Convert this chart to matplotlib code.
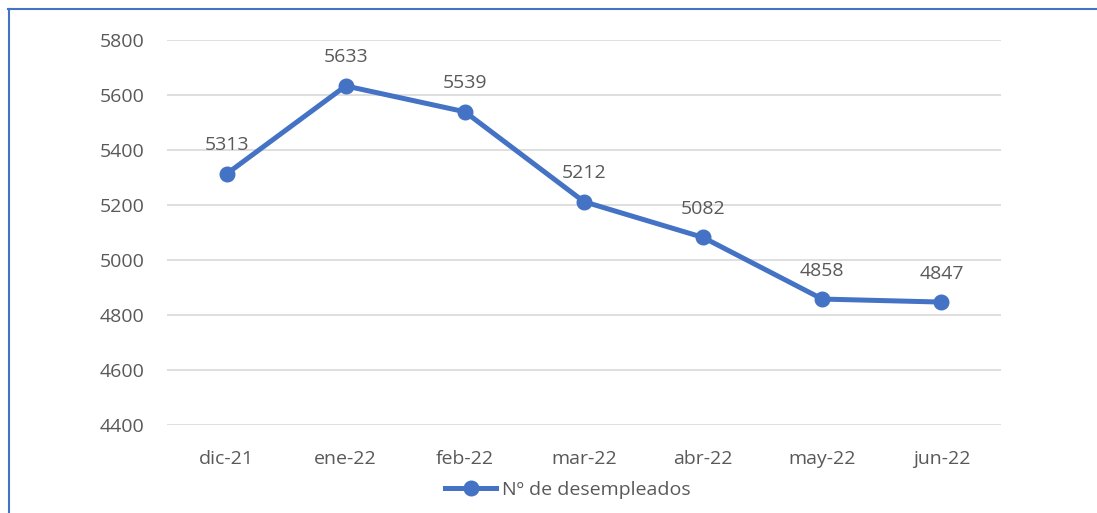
import matplotlib
matplotlib.use("Agg")
import matplotlib.pyplot as plt
from matplotlib.lines import Line2D

categories = ["dic-21", "ene-22", "feb-22", "mar-22", "abr-22", "may-22", "jun-22"]
values = [5313, 5633, 5539, 5212, 5082, 4858, 4847]
yticks = [4400, 4600, 4800, 5000, 5200, 5400, 5600, 5800]
series_name = "Nº de desempleados"

plt.rcParams['font.family'] = ['Open Sans', 'DejaVu Sans']
txt = "#595959"
blue = "#4472C4"
fs = 14

W, H = 1097, 513
fig = plt.figure(figsize=(W/100, H/100), dpi=100)
ax = fig.add_axes([167/W, 1 - 425/H, (1001-167)/W, (425-40)/H])

x = list(range(len(categories)))
ax.plot(x, values, color=blue, lw=3.6, marker='o', ms=10.5, solid_capstyle='round')
for xi, v in zip(x, values):
    ax.annotate(str(v), (xi, v), xytext=(0, 14), textcoords='offset points',
                ha='center', va='bottom', fontsize=fs, color=txt)

ax.set_xlim(-0.5, len(categories) - 0.5)
ax.set_ylim(4400, 5800)
ax.set_yticks(yticks)
ax.set_xticks(x)
ax.set_xticklabels(categories)
ax.grid(axis='y', color='#d9d9d9', lw=1.2)
ax.set_axisbelow(True)
for s in ax.spines.values():
    s.set_visible(False)
ax.tick_params(length=0, labelsize=fs, labelcolor=txt)
ax.tick_params(axis='y', pad=16)
ax.tick_params(axis='x', pad=18)

handle = Line2D([], [], color=blue, lw=3.6, marker='o', ms=10.5)
fig.legend([handle], [series_name], loc='center', bbox_to_anchor=(568/W, 1 - 490/H),
           frameon=False, fontsize=fs, labelcolor=txt, handlelength=2.6, handletextpad=0.3)

# border lines (top and left visible)
fig.add_artist(Line2D([8/W, 1], [1 - 9/H, 1 - 9/H], color=blue, lw=1.5, transform=fig.transFigure))
fig.add_artist(Line2D([9/W, 9/W], [0, 1 - 9/H], color=blue, lw=1.5, transform=fig.transFigure))

fig.savefig("out.png", dpi=100)
